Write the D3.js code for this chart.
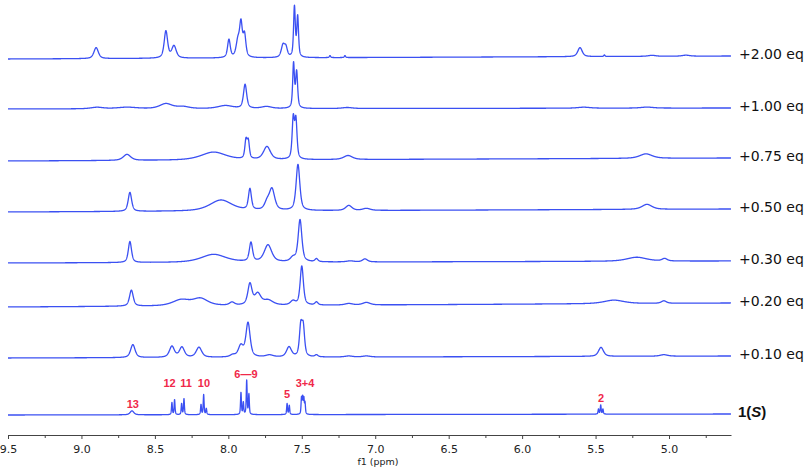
<!DOCTYPE html>
<html><head><meta charset="utf-8">
<script src="https://cdn.jsdelivr.net/npm/d3@7/dist/d3.min.js"></script>
<style>
html,body{margin:0;padding:0;background:#fff;}
svg{display:block;}
</style></head>
<body>
<svg id="chart" width="808" height="467"></svg>
<script>
// ---- data: peak lists [ppm, height, half-width (ppm)] ----
const labels = ["+2.00 eq","+1.00 eq","+0.75 eq","+0.50 eq","+0.30 eq","+0.20 eq","+0.10 eq","1(S)"];

const peaks200 = [
  [8.900,11,0.018],[8.425,27,0.014],[8.370,12,0.018],
  [7.996,18,0.011],[7.935,16,0.014],[7.914,32,0.011],[7.890,22,0.011],
  [7.628,12,0.014],[7.608,9,0.012],
  [7.550,50,0.007],[7.528,40,0.007],
  [7.308,2,0.005],[7.206,2,0.005],
  [5.606,9,0.018],[5.440,1.5,0.005],[5.116,1,0.03],[4.885,1,0.03]
];
const peaks100 = [
  [8.894,1.5,0.05],[8.690,1.5,0.08],[8.425,5,0.05],[8.310,2,0.05],[8.020,3,0.06],
  [7.886,24,0.013],[7.740,2,0.04],
  [7.556,44,0.007],[7.535,36,0.008],
  [7.190,1,0.04],[5.580,1,0.05],[5.150,1,0.05]
];
const peaks075 = [
  [8.690,6,0.03],[8.100,8,0.10],
  [7.880,18,0.009],[7.864,17,0.009],
  [7.737,13,0.028],
  [7.558,40,0.009],[7.540,38,0.009],
  [7.185,4,0.035],[5.157,4.5,0.05]
];
const peaks050 = [
  [8.670,19,0.014],[8.050,11,0.09],
  [7.853,21,0.012],[7.737,7,0.02],[7.703,21,0.022],
  [7.526,46,0.015],
  [7.180,5,0.025],[7.060,2,0.03],[5.150,5,0.04]
];
const peaks030 = [
  [8.670,21,0.013],[8.100,8,0.10],
  [7.846,19,0.013],[7.730,17,0.03],[7.560,4,0.02],
  [7.512,42,0.015],[7.400,3,0.012],
  [7.170,1,0.03],[7.070,3,0.02],[5.220,4,0.08],[5.030,2.5,0.02]
];
const peaks020 = [
  [8.660,16,0.015],[8.320,6,0.07],[8.190,7,0.06],[7.975,3,0.02],
  [7.853,21,0.017],[7.800,11,0.025],[7.730,5,0.04],[7.560,4,0.02],
  [7.500,39,0.013],[7.400,3,0.012],
  [7.180,1.5,0.03],[7.060,2.5,0.03],[5.375,3.5,0.08],[5.035,2.5,0.02]
];
const peaks010 = [
  [8.650,13,0.018],[8.384,11,0.02],[8.316,10,0.02],[8.200,10,0.022],
  [7.970,2,0.02],[7.915,11,0.02],[7.866,34,0.017],[7.720,2,0.03],
  [7.587,10,0.02],
  [7.507,29,0.011],[7.490,28,0.011],[7.400,2,0.012],
  [7.180,1,0.03],[7.060,1,0.03],[5.463,9,0.02],[5.035,1.5,0.03]
];
const peaksS = [
  [8.656,4,0.015],
  [8.384,12,0.0035],[8.366,15,0.0035],
  [8.318,11,0.0035],[8.302,16,0.0035],
  [8.186,10,0.0035],[8.168,20,0.0035],[8.150,6,0.0035],
  [7.914,22,0.0035],[7.898,12,0.0035],[7.875,34,0.0035],[7.860,20,0.0035],
  [7.600,11,0.0035],[7.585,9,0.0035],
  [7.502,16,0.0035],[7.494,16,0.0035],[7.486,15,0.0035],[7.478,11,0.0035],
  [5.480,5,0.0035],[5.465,9,0.0035],[5.450,5,0.0035]
];
const spectra = [peaks200,peaks100,peaks075,peaks050,peaks030,peaks020,peaks010,peaksS];

const annotations = [
  {text:"13", ppm:8.650, lift:7},
  {text:"12", ppm:8.400, lift:28},
  {text:"11", ppm:8.288, lift:28},
  {text:"10", ppm:8.166, lift:28},
  {text:"6\u20149", ppm:7.880, lift:37},
  {text:"5", ppm:7.600, lift:17},
  {text:"3+4", ppm:7.478, lift:28},
  {text:"2", ppm:5.463, lift:12}
];
const majorTicks = [9.5,9.0,8.5,8.0,7.5,7.0,6.5,6.0,5.5,5.0];
const minorTicks = [9.25,8.75,8.25,7.75,7.25,6.75,6.25,5.75,5.25,4.75];

// ---- layout ----
const baseLeft  = [59,109,161,212,263,307,358,415];
const baseRight = [56,108,158,209,261,303,356,414];
const axisY = 435;
const svg = d3.select("#chart");
const x = d3.scaleLinear().domain([9.5,4.578]).range([8,731]);
const y = d3.scaleLinear().domain([0,60]).range([0,-60]);

function intensity(p, list){
  let s = 0;
  for (const [c,h,w] of list){
    const t = (p-c)/w;
    s += h*(0.6/(1+t*t) + 0.4*Math.exp(-0.6931*t*t));
  }
  return s;
}
const grid = d3.range(9.5, 4.578, -0.0008);

spectra.forEach((list,i)=>{
  const bl = d3.scaleLinear().domain([9.5,4.578]).range([baseLeft[i],baseRight[i]]);
  const line = d3.line()
    .x(d=>x(d))
    .y(d=>bl(d)+y(intensity(d,list)));
  svg.append("path")
    .attr("d", line(grid))
    .attr("fill","none")
    .attr("stroke","#3b50f2")
    .attr("stroke-width",1.3)
    .attr("stroke-linejoin","round");
});

// labels
labels.forEach((t,i)=>{
  const yy = baseRight[i]-2;
  if (i === labels.length-1){
    const tx = svg.append("text").attr("x",738).attr("y",yy).attr("dy","0.36em")
      .attr("font-family","'Liberation Sans', Arial, sans-serif").attr("font-weight","bold")
      .attr("font-size",15).attr("fill","#111");
    tx.append("tspan").text("1(");
    tx.append("tspan").attr("font-style","italic").text("S");
    tx.append("tspan").text(")");
  } else {
    svg.append("text").attr("x",739).attr("y",yy).attr("dy","0.36em")
      .attr("font-family","'DejaVu Sans', Verdana, sans-serif")
      .attr("font-size",14).attr("fill","#111").text(t);
  }
});

// peak annotations for 1(S)
const bS = d3.scaleLinear().domain([9.5,4.578]).range([baseLeft[7],baseRight[7]]);
svg.selectAll(".ann").data(annotations).enter().append("text")
  .attr("x",d=>x(d.ppm)).attr("y",d=>bS(d.ppm)+y(d.lift))
  .attr("text-anchor","middle")
  .attr("font-family","'Liberation Sans', Arial, sans-serif").attr("font-weight","bold")
  .attr("font-size",11).attr("fill","#f0284a").text(d=>d.text);

// axis
const gAxis = svg.append("g").attr("transform",`translate(0,${axisY})`);
gAxis.call(d3.axisBottom(x).tickValues(majorTicks).tickFormat(d3.format(".1f"))
  .tickSize(4).tickSizeOuter(0).tickPadding(6));
gAxis.append("g").call(d3.axisBottom(x).tickValues(minorTicks).tickFormat("").tickSize(3).tickSizeOuter(0))
  .select(".domain").remove();
gAxis.selectAll("path,line").attr("stroke","#444");
gAxis.selectAll("text").attr("font-family","'DejaVu Sans', Verdana, sans-serif").attr("font-size",11).attr("fill","#222");
svg.append("text").attr("x",378).attr("y",465).attr("text-anchor","middle")
  .attr("font-family","'DejaVu Sans', Verdana, sans-serif").attr("font-size",9.5).attr("fill","#222").text("f1 (ppm)");
</script>
</body></html>
